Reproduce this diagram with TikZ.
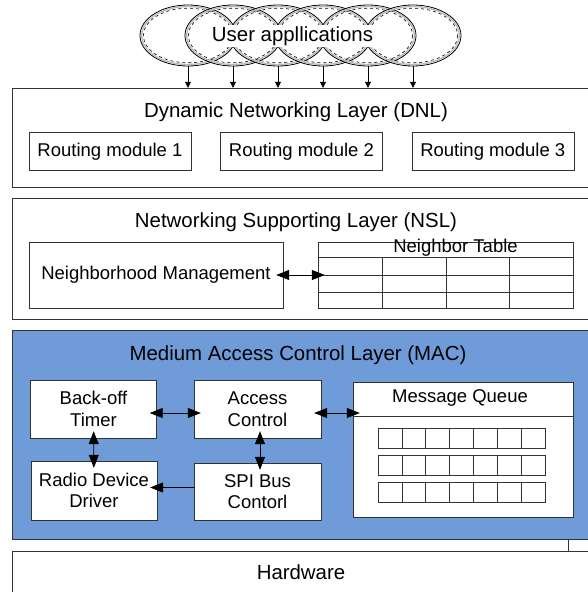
\documentclass[tikz,border=0pt]{standalone}
\usepackage{fontspec}
\setmainfont{Liberation Sans}
\usepackage{xcolor}
\definecolor{Mac Blue}{HTML}{6F9CD8}
\colorlet{cMac}{Mac Blue}
\colorlet{cLine}{black!80}
\usepackage{tikz}
\usetikzlibrary{positioning, arrows.meta, shapes.geometric}
\newcommand{\titlefont}{\fontsize{20.4}{23}\selectfont}
\newcommand{\boxfont}{\fontsize{18.5}{21.5}\selectfont}
\tikzset{
	node distance = 29pt,
	line width = .8pt,
	layer/.style={
		draw=cLine,
		fill=white,
		inner sep=0pt,
		minimum width=588pt
	},
	title/.style={
		inner sep=0pt,
		font=\titlefont
	},
	module/.style={
		draw=cLine,
		fill=white,
		inner sep=0pt,
		align=center,
		font=\boxfont
	},
	app/.style={
		draw=black,
		ellipse,
		line width=.8pt,
		minimum width=96pt,
		minimum height=61pt
	},
	biarrow/.style={
		{Triangle[length=13pt,width=10pt]}-{Triangle[length=13pt,width=10pt]},
		shorten <=-7pt,
		shorten >=-7pt,
		line width=.8pt
	},
	onearrow/.style={
		-{Triangle[length=13pt,width=10pt]},
		shorten >=-7pt,
		line width=.8pt
	},
	apparrow/.style={
		-{Triangle[length=6pt,width=6pt]},
		line width=.6pt
	}
}

\begin{document}
\begin{tikzpicture}[x=1pt, y=-1pt]
\useasboundingbox (0,0) rectangle (588,592);
\clip (0,0) rectangle (588,592);

% ---
% Layers
% ---
\node[layer, minimum height=99pt] at (306,137.5) (dnl) {};
\node[layer, minimum height=121pt] at (306,258.5) (nsl) {};
\node[layer, fill=cMac, minimum height=209pt] at (306,434.5) (mac) {};
\node[layer, minimum height=69pt] at (306,585.5) (hw) {};

\node[title] at (296,112) (dnlTitle) {Dynamic Networking Layer (DNL)};
\node[title] at (296,222) (nslTitle) {Networking Supporting Layer (NSL)};
\node[title] at (298,355) (macTitle) {Medium Access Control Layer (MAC)};
\node[title] at (301,572) (hwTitle) {Hardware};

% ---
% User applications
% ---
\foreach \i in {0,...,5}{
	\node[app] at (188+45*\i,35.5) (app\i) {};
	\draw[gray!55, line width=1.3pt] (app\i.center) ellipse (46.3 and 29);
	\draw[dashed, line width=.6pt] (app\i.center) ellipse (44.6 and 27.3);
	\draw[apparrow] (app\i.south) to (app\i.south |- dnl.north);
}
\node[fill=white, inner sep=1pt, font=\titlefont] at (292.5,36) (apps) {User appllications};

% ---
% DNL
% ---
\node[module, minimum width=162pt, minimum height=38pt] at (110,151.5) (rm1) {Routing module 1};
\node[module, minimum width=162pt, minimum height=38pt, right=of rm1] (rm2) {Routing module 2};
\node[module, minimum width=162pt, minimum height=38pt, right=of rm2] (rm3) {Routing module 3};

% ---
% NSL
% ---
\node[module, minimum width=254pt, minimum height=66pt] at (156,275) (nm) {Neighborhood Management};
\node[module, minimum width=255pt, minimum height=66pt] at (445.5,275) (nt) {};
\foreach \y in {257,275,292}
	\draw[cLine] (318,\y) -- (573,\y);
\foreach \x in {382,446,509}
	\draw[cLine] (\x,257) -- (\x,308);
\node[inner sep=0pt, font=\boxfont] at (455.5,247.5) (ntTitle) {Neighbor Table};

\draw[biarrow] (nm) to (nt);

% ---
% MAC
% ---
\node[module, minimum width=126pt, minimum height=58pt] at (93.5,409) (backoff) {Back-off\\Timer};
\node[module, minimum width=127pt, minimum height=58pt] at (257.5,409) (access) {Access\\Control};
\node[module, minimum width=126pt, minimum height=59pt] at (94,490.5) (radio) {Radio Device\\Driver};
\node[module, minimum width=127pt, minimum height=57pt] at (257.5,491.5) (spi) {SPI Bus\\Contorl};
\node[module, minimum width=220pt, minimum height=135pt] at (463,449.5) (mq) {};
\draw[cLine] (mq.west |- 0,416) -- (mq.east |- 0,416);
\node[inner sep=0pt, font=\boxfont] at (460,398) (mqTitle) {Message Queue};
\foreach \y in {428,455,482}
	\foreach \c in {0,...,6}
		\draw[cLine, line width=.6pt] (378+23.86*\c,\y) rectangle ++(23.86,20.5);

\draw[biarrow] ([yshift=-4pt]backoff.east) to ([yshift=-4pt]access.west);
\draw[biarrow] ([yshift=-4pt]access.east) to ([yshift=-4pt]access.east -| mq.west);
\draw[biarrow] (backoff) to (radio);
\draw[biarrow] ([xshift=2.5pt]access.south) to ([xshift=2.5pt]spi.north);
\draw[onearrow] ([yshift=4pt]spi.west) to ([yshift=4pt]spi.west -| radio.east);

% ---
% MAC to hardware
% ---
\coordinate (tick) at (568,539);
\draw[cLine, line width=.6pt] (tick) to (tick |- hw.north);

\end{tikzpicture}
\end{document}
